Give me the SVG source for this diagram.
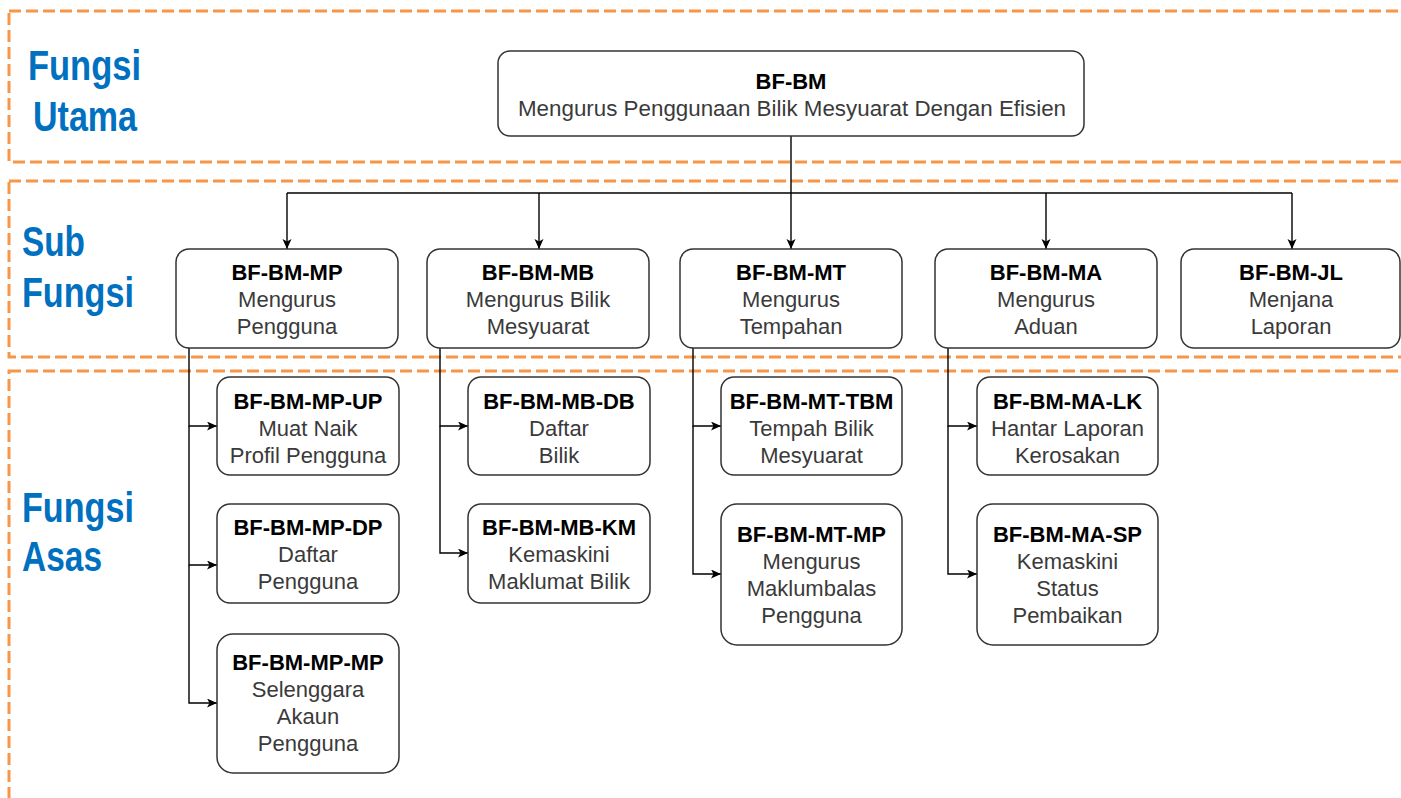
<svg xmlns="http://www.w3.org/2000/svg" width="1401" height="798" viewBox="0 0 1401 798">
<style>
.zone{fill:none;stroke:#F79646;stroke-width:3;stroke-dasharray:12 5}
.lbl{font-family:"Liberation Sans",Arial,sans-serif;font-weight:bold;font-size:42px;fill:#0070C0}
.box{fill:#fff;stroke:#333;stroke-width:1.5}
.t{font-family:"Liberation Sans",Arial,sans-serif;font-size:22px;fill:#3a3a3a;text-anchor:middle}
.b{font-weight:bold;fill:#000}
.c{fill:none;stroke:#000;stroke-width:1.4}
</style>
<defs>
<marker id="arr" markerUnits="userSpaceOnUse" markerWidth="11" markerHeight="10" refX="10" refY="4.5" orient="auto">
<path d="M0,0 L10,4.5 L0,9 L2.5,4.5 z" fill="#000"/>
</marker>
</defs>
<rect width="1401" height="798" fill="#fff"/>
<g id="zones">
<rect class="zone" x="9" y="11" width="1420" height="151"/>
<rect class="zone" x="9" y="181" width="1420" height="176"/>
<rect class="zone" x="9" y="371" width="1420" height="460"/>
<text class="lbl" x="28" y="80" textLength="113" lengthAdjust="spacingAndGlyphs">Fungsi</text>
<text class="lbl" x="33" y="131" textLength="104" lengthAdjust="spacingAndGlyphs">Utama</text>
<text class="lbl" x="22" y="256" textLength="63" lengthAdjust="spacingAndGlyphs">Sub</text>
<text class="lbl" x="22" y="307" textLength="112" lengthAdjust="spacingAndGlyphs">Fungsi</text>
<text class="lbl" x="22" y="522" textLength="112" lengthAdjust="spacingAndGlyphs">Fungsi</text>
<text class="lbl" x="22" y="571" textLength="80" lengthAdjust="spacingAndGlyphs">Asas</text>
</g>
<g id="connectors">
<path class="c" d="M791,136 V249" marker-end="url(#arr)"/>
<path class="c" d="M287,193 H1292"/>
<path class="c" d="M287,193 V249" marker-end="url(#arr)"/>
<path class="c" d="M539,193 V249" marker-end="url(#arr)"/>
<path class="c" d="M1046,193 V249" marker-end="url(#arr)"/>
<path class="c" d="M1292,193 V249" marker-end="url(#arr)"/>
<path class="c" d="M189,348 V426 H217" marker-end="url(#arr)"/>
<path class="c" d="M189,426 V565 H217" marker-end="url(#arr)"/>
<path class="c" d="M189,565 V703 H217" marker-end="url(#arr)"/>
<path class="c" d="M440,348 V426 H468" marker-end="url(#arr)"/>
<path class="c" d="M440,426 V553 H468" marker-end="url(#arr)"/>
<path class="c" d="M693,348 V426 H721" marker-end="url(#arr)"/>
<path class="c" d="M693,426 V574 H721" marker-end="url(#arr)"/>
<path class="c" d="M948,348 V426 H977" marker-end="url(#arr)"/>
<path class="c" d="M948,426 V574 H977" marker-end="url(#arr)"/>
</g>
<g id="BF-BM">
<rect class="box" x="498" y="51" width="586" height="85" rx="12"/>
<text class="t b" x="791" y="88.5">BF-BM</text>
<text class="t" x="792" y="115.5" textLength="548" lengthAdjust="spacingAndGlyphs">Mengurus Penggunaan Bilik Mesyuarat Dengan Efisien</text>
</g>
<g id="BF-BM-MP">
<rect class="box" x="176" y="249" width="222" height="99" rx="13"/>
<text class="t b" x="287" y="280">BF-BM-MP</text>
<text class="t" x="287" y="307">Mengurus</text>
<text class="t" x="287" y="334">Pengguna</text>
</g>
<g id="BF-BM-MB">
<rect class="box" x="427" y="249" width="222" height="99" rx="13"/>
<text class="t b" x="538" y="280">BF-BM-MB</text>
<text class="t" x="538" y="307">Mengurus Bilik</text>
<text class="t" x="538" y="334">Mesyuarat</text>
</g>
<g id="BF-BM-MT">
<rect class="box" x="680" y="249" width="222" height="99" rx="13"/>
<text class="t b" x="791" y="280">BF-BM-MT</text>
<text class="t" x="791" y="307">Mengurus</text>
<text class="t" x="791" y="334">Tempahan</text>
</g>
<g id="BF-BM-MA">
<rect class="box" x="935" y="249" width="222" height="99" rx="13"/>
<text class="t b" x="1046" y="280">BF-BM-MA</text>
<text class="t" x="1046" y="307">Mengurus</text>
<text class="t" x="1046" y="334">Aduan</text>
</g>
<g id="BF-BM-JL">
<rect class="box" x="1181" y="249" width="219" height="99" rx="13"/>
<text class="t b" x="1291" y="280">BF-BM-JL</text>
<text class="t" x="1291" y="307">Menjana</text>
<text class="t" x="1291" y="334">Laporan</text>
</g>
<g id="BF-BM-MP-UP">
<rect class="box" x="217" y="377" width="182" height="98" rx="13"/>
<text class="t b" x="308" y="408.5">BF-BM-MP-UP</text>
<text class="t" x="308" y="435.5">Muat Naik</text>
<text class="t" x="308" y="462.5">Profil Pengguna</text>
</g>
<g id="BF-BM-MP-DP">
<rect class="box" x="217" y="504" width="182" height="99" rx="13"/>
<text class="t b" x="308" y="535">BF-BM-MP-DP</text>
<text class="t" x="308" y="562">Daftar</text>
<text class="t" x="308" y="589">Pengguna</text>
</g>
<g id="BF-BM-MP-MP">
<rect class="box" x="217" y="634" width="182" height="139" rx="16"/>
<text class="t b" x="308" y="670">BF-BM-MP-MP</text>
<text class="t" x="308" y="697">Selenggara</text>
<text class="t" x="308" y="724">Akaun</text>
<text class="t" x="308" y="751">Pengguna</text>
</g>
<g id="BF-BM-MB-DB">
<rect class="box" x="468" y="377" width="182" height="98" rx="13"/>
<text class="t b" x="559" y="408.5">BF-BM-MB-DB</text>
<text class="t" x="559" y="435.5">Daftar</text>
<text class="t" x="559" y="462.5">Bilik</text>
</g>
<g id="BF-BM-MB-KM">
<rect class="box" x="468" y="504" width="182" height="99" rx="13"/>
<text class="t b" x="559" y="535">BF-BM-MB-KM</text>
<text class="t" x="559" y="562">Kemaskini</text>
<text class="t" x="559" y="589">Maklumat Bilik</text>
</g>
<g id="BF-BM-MT-TBM">
<rect class="box" x="721" y="377" width="181" height="98" rx="13"/>
<text class="t b" x="811.5" y="408.5">BF-BM-MT-TBM</text>
<text class="t" x="811.5" y="435.5">Tempah Bilik</text>
<text class="t" x="811.5" y="462.5">Mesyuarat</text>
</g>
<g id="BF-BM-MT-MP">
<rect class="box" x="721" y="504" width="181" height="141" rx="16"/>
<text class="t b" x="811.5" y="542">BF-BM-MT-MP</text>
<text class="t" x="811.5" y="569">Mengurus</text>
<text class="t" x="811.5" y="596">Maklumbalas</text>
<text class="t" x="811.5" y="623">Pengguna</text>
</g>
<g id="BF-BM-MA-LK">
<rect class="box" x="977" y="377" width="181" height="98" rx="13"/>
<text class="t b" x="1067.5" y="408.5">BF-BM-MA-LK</text>
<text class="t" x="1067.5" y="435.5">Hantar Laporan</text>
<text class="t" x="1067.5" y="462.5">Kerosakan</text>
</g>
<g id="BF-BM-MA-SP">
<rect class="box" x="977" y="504" width="181" height="141" rx="16"/>
<text class="t b" x="1067.5" y="542">BF-BM-MA-SP</text>
<text class="t" x="1067.5" y="569">Kemaskini</text>
<text class="t" x="1067.5" y="596">Status</text>
<text class="t" x="1067.5" y="623">Pembaikan</text>
</g>
</svg>
